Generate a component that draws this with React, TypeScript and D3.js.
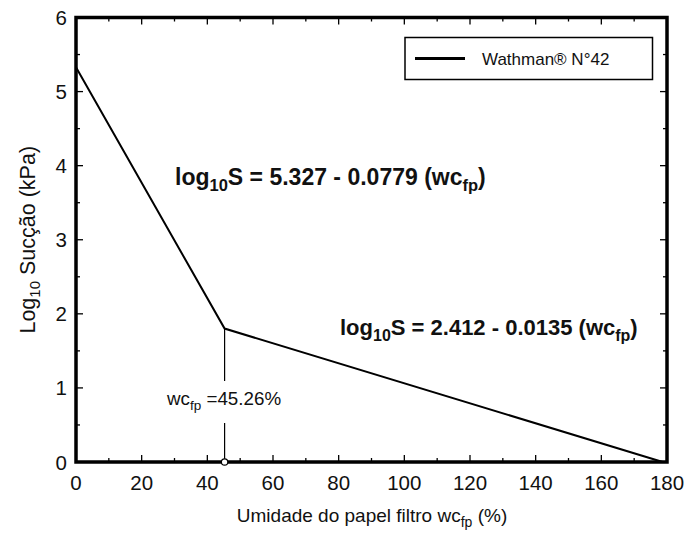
import React from "react";
import * as d3 from "d3";

const xTicks = [0, 20, 40, 60, 80, 100, 120, 140, 160, 180];
const yTicks = [0, 1, 2, 3, 4, 5, 6];
const lineX = [0, 45.26, 178.7];
const lineY = [5.327, 1.801, 0.0];
const breakX = 45.26;
const legendLabel = "Wathman® N°42";

const W = 689, H = 534;
const FONT = "Liberation Sans, Arial, Helvetica, sans-serif";

export default function App() {
  const x = d3.scaleLinear().domain([0, 180]).range([76, 667]);
  const y = d3.scaleLinear().domain([0, 6]).range([462, 17.5]);
  const line = d3.line<number>().x((d, i) => x(lineX[i])).y((d, i) => y(lineY[i]));
  const minorX = d3.range(10, 180, 20);
  const minorY = d3.range(0.5, 6, 1);
  const x0 = x(0), x1 = x(180), y0 = y(0), y1 = y(6);
  const maj = 7, min = 4;

  return (
    <svg width={W} height={H} style={{ position: "absolute", left: 0, top: 0, background: "#fff" }} fontFamily={FONT}>
      <rect width={W} height={H} fill="#fff" />
      {/* ticks */}
      <g stroke="#000" strokeWidth={1.3}>
        {xTicks.slice(1, -1).map((t) => (
          <g key={"xt" + t}>
            <line x1={x(t)} x2={x(t)} y1={y0} y2={y0 - maj} />
            <line x1={x(t)} x2={x(t)} y1={y1} y2={y1 + maj} />
          </g>
        ))}
        {minorX.map((t) => (
          <g key={"xm" + t}>
            <line x1={x(t)} x2={x(t)} y1={y0} y2={y0 - min} />
            <line x1={x(t)} x2={x(t)} y1={y1} y2={y1 + min} />
          </g>
        ))}
        {yTicks.slice(1, -1).map((t) => (
          <g key={"yt" + t}>
            <line x1={x0} x2={x0 + maj} y1={y(t)} y2={y(t)} />
            <line x1={x1} x2={x1 - maj} y1={y(t)} y2={y(t)} />
          </g>
        ))}
        {minorY.map((t) => (
          <g key={"ym" + t}>
            <line x1={x0} x2={x0 + min} y1={y(t)} y2={y(t)} />
            <line x1={x1} x2={x1 - min} y1={y(t)} y2={y(t)} />
          </g>
        ))}
      </g>
      {/* data line */}
      <path d={line(lineY) || ""} fill="none" stroke="#000" strokeWidth={2} />
      {/* frame */}
      <rect x={x0} y={y1} width={x1 - x0} height={y0 - y1} fill="none" stroke="#000" strokeWidth={3.5} />
      {/* tick labels */}
      <g fontSize={20.5} fill="#111">
        {xTicks.map((t) => (
          <text key={"xl" + t} x={x(t)} y={y0 + 28} textAnchor="middle">{t}</text>
        ))}
        {yTicks.map((t) => (
          <text key={"yl" + t} x={x0 - 9} y={y(t) + 7.5} textAnchor="end">{t}</text>
        ))}
      </g>
      {/* vertical marker */}
      <g stroke="#000" strokeWidth={1.2}>
        <line x1={x(breakX)} x2={x(breakX)} y1={y(1.801)} y2={381} />
        <line x1={x(breakX)} x2={x(breakX)} y1={423} y2={y0 - 3} />
      </g>
      <circle cx={x(breakX)} cy={y0} r={3.2} fill="#fff" stroke="#000" strokeWidth={1.2} />
      <text x={167} y={405} fontSize={18.8} fill="#111">
        wc<tspan fontSize={13.5} dy={5}>fp</tspan><tspan dy={-5}> =45.26%</tspan>
      </text>
      {/* equations */}
      <text x={175} y={185} fontSize={23} fontWeight="bold" fill="#111">
        log<tspan fontSize={16.5} dy={6}>10</tspan><tspan dy={-6}>S = 5.327 - 0.0779 (wc</tspan><tspan fontSize={16.5} dy={6}>fp</tspan><tspan dy={-6}>)</tspan>
      </text>
      <text x={340} y={335} fontSize={22} fontWeight="bold" fill="#111">
        log<tspan fontSize={16} dy={6}>10</tspan><tspan dy={-6}>S = 2.412 - 0.0135 (wc</tspan><tspan fontSize={16} dy={6}>fp</tspan><tspan dy={-6}>)</tspan>
      </text>
      {/* legend */}
      <rect x={405} y={37.5} width={247.5} height={42} fill="#fff" stroke="#000" strokeWidth={1.5} />
      <line x1={415} x2={465} y1={58.5} y2={58.5} stroke="#000" strokeWidth={3} />
      <text x={482} y={65} fontSize={17} fill="#111">{legendLabel}</text>
      {/* axis titles */}
      <text transform={`translate(35, ${(y0 + y1) / 2}) rotate(-90)`} textAnchor="middle" fontSize={21.5} fill="#111">
        Log<tspan fontSize={15} dy={5}>10</tspan><tspan dy={-5}> Sucção (kPa)</tspan>
      </text>
      <text x={372} y={522} textAnchor="middle" fontSize={19} fill="#111">
        Umidade do papel filtro wc<tspan fontSize={14} dy={5}>fp</tspan><tspan dy={-5}> (%)</tspan>
      </text>
    </svg>
  );
}
